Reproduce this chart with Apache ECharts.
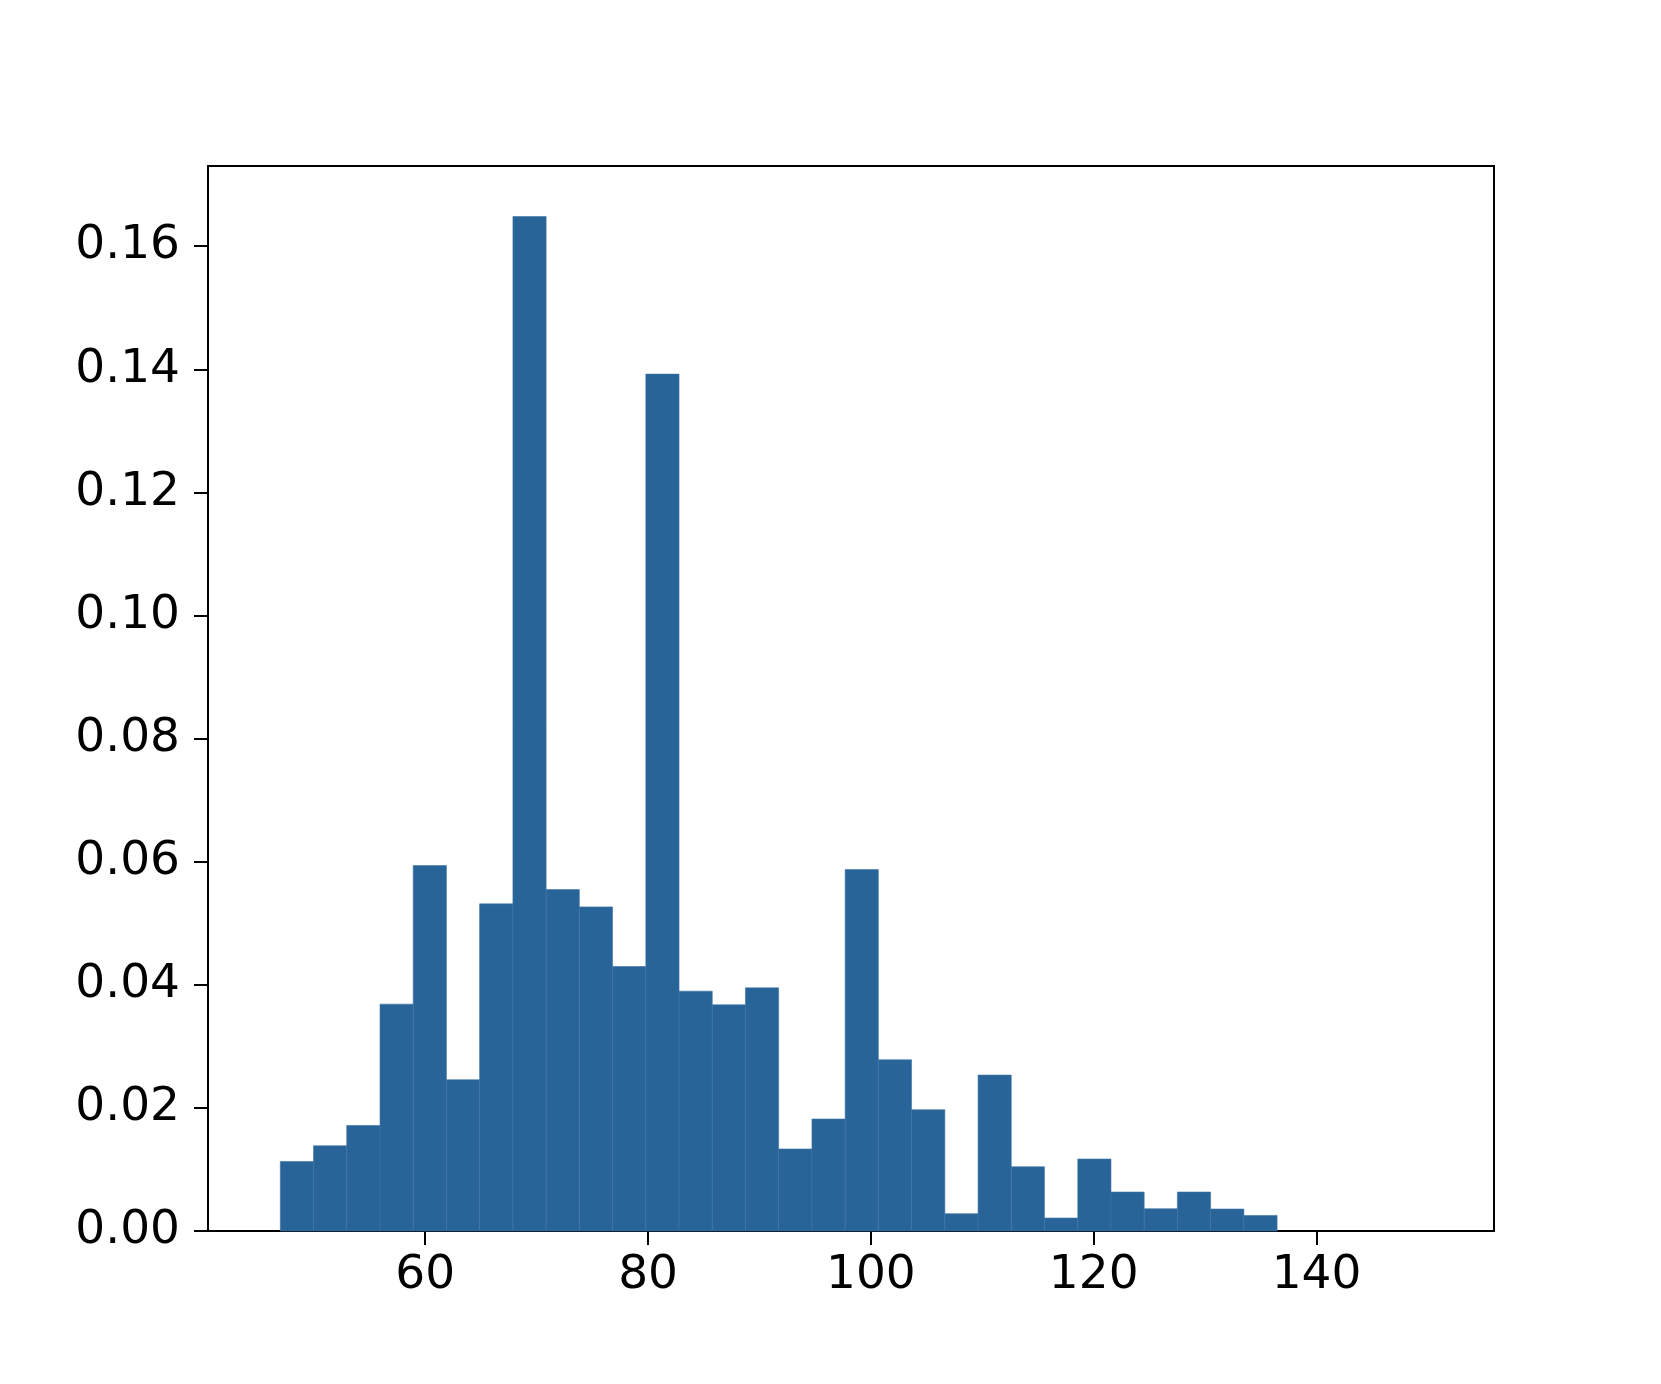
<!DOCTYPE html>
<html>
<head>
<meta charset="utf-8">
<script src="https://cdn.jsdelivr.net/npm/echarts@6/dist/echarts.min.js"></script>
<style>
html,body{margin:0;padding:0;background:#fff;}
#chart{width:1661px;height:1384px;}
</style>
</head>
<body>
<div id="chart"></div>
<script>
// Histogram bin edges (31 edges -> 30 bins)
const binEdges = [46.99, 49.97, 52.95, 55.94, 58.92, 61.90, 64.88, 67.87, 70.85, 73.83,
  76.81, 79.80, 82.78, 85.76, 88.74, 91.72, 94.71, 97.69, 100.67, 103.65,
  106.64, 109.62, 112.60, 115.58, 118.57, 121.55, 124.53, 127.51, 130.49, 133.48, 136.46];
// Density per bin
const density = [0.0113, 0.01385, 0.01715, 0.03686, 0.05937, 0.02457, 0.05315, 0.16483, 0.05547, 0.05266,
  0.04297, 0.13922, 0.03897, 0.03675, 0.03951, 0.01332, 0.01819, 0.05872, 0.02782, 0.0197,
  0.00281, 0.02533, 0.01044, 0.00211, 0.01169, 0.00633, 0.00362, 0.00633, 0.00357, 0.00253];
const xTicks = [60, 80, 100, 120, 140];
const yTicks = [0, 0.02, 0.04, 0.06, 0.08, 0.10, 0.12, 0.14, 0.16];
const xRange = [40.5, 155.93];
const yRange = [0, 0.17303];

const data = density.map((v, i) => [binEdges[i], binEdges[i + 1], v]);

const chart = echarts.init(document.getElementById('chart'), null, {renderer: 'canvas'});
const font = 'DejaVu Sans';
chart.setOption({
  animation: false,
  backgroundColor: '#fff',
  grid: {left: 208, right: 167, top: 166, bottom: 153, show: true, borderColor: '#000', borderWidth: 2, backgroundColor: 'transparent'},
  xAxis: {
    type: 'value', min: xRange[0], max: xRange[1],
    axisLine: {show: true, onZero: false, lineStyle: {color: '#000', width: 2}},
    axisTick: {show: true, length: 14, lineStyle: {color: '#000', width: 2}, customValues: xTicks},
    axisLabel: {show: true, color: '#000', fontFamily: font, fontSize: 47, margin: 21, customValues: xTicks,
      formatter: v => String(v)},
    splitLine: {show: false}
  },
  yAxis: {
    type: 'value', min: yRange[0], max: yRange[1],
    axisLine: {show: true, lineStyle: {color: '#000', width: 2}},
    axisTick: {show: true, length: 14, lineStyle: {color: '#000', width: 2}, customValues: yTicks},
    axisLabel: {show: true, color: '#000', fontFamily: font, fontSize: 47, margin: 28, customValues: yTicks,
      formatter: v => Number(v).toFixed(2)},
    splitLine: {show: false}
  },
  series: [{
    type: 'custom',
    encode: {x: [0, 1], y: 2},
    data: data,
    renderItem: function (params, api) {
      const p0 = api.coord([api.value(0), api.value(2)]);
      const p1 = api.coord([api.value(1), 0]);
      return {
        type: 'rect',
        shape: {x: p0[0], y: p0[1], width: p1[0] - p0[0], height: p1[1] - p0[1]},
        style: {fill: '#296499', stroke: '#3a73a6', lineWidth: 0.6}
      };
    }
  }]
});
</script>
</body>
</html>
